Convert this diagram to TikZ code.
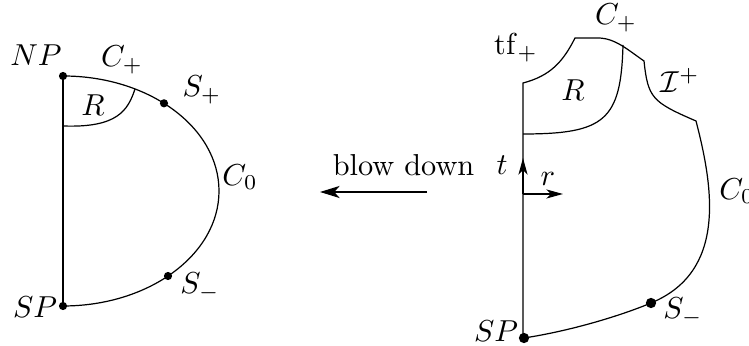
\documentclass[tikz,border=0pt]{standalone}
\usetikzlibrary{arrows.meta}
\begin{document}
\begin{tikzpicture}[x=0.33pt,y=-0.33pt,
  dotL/.style={circle,fill,inner sep=0pt,minimum size=2.7pt},
  dotR/.style={circle,fill,inner sep=0pt,minimum size=3.4pt},
  lab/.style={inner sep=0pt},
  bigarr/.style={-{Stealth[length=6.5pt,width=4pt,inset=1.8pt]}},
  axarr/.style={-{Stealth[length=5.5pt,width=3pt,inset=1.5pt]}}]
\useasboundingbox (0,0) rectangle (749,346);
\clip (0,0) rectangle (749,346);
% ---------- left picture ----------
\coordinate (NP) at (63,76);
\coordinate (SP) at (63,306);
\coordinate (Sp) at (164,103.3);
\coordinate (Sm) at (168,276);
\coordinate (Ra) at (63,126);
\coordinate (Rb) at (135,89);
\draw (NP) -- (SP);
\draw (NP) arc[start angle=-90,end angle=90,x radius=156,y radius=115];
\draw (Ra) .. controls (118,128) and (128,110) .. (Rb);
\node[dotL] (dNP) at (NP) {};
\node[dotL] (dSP) at (SP) {};
\node[dotL] (dSp) at (Sp) {};
\node[dotL] (dSm) at (Sm) {};
\node[lab] (lNP) at (36,55) {$NP$};
\node[lab] (lCp) at (122,60) {$C_+$};
\node[lab] (lSp) at (202,90) {$S_+$};
\node[lab] (lR) at (93,105) {$R$};
\node[lab] (lC0) at (240,177) {$C_0$};
\node[lab] (lSm) at (200,287) {$S_-$};
\node[lab] (lSP) at (35,307) {$SP$};
% ---------- blow down ----------
\node[lab] (bd) at (403.5,165.5) {blow down};
\coordinate (ba) at (427,192);
\coordinate (bb) at (320,192);
\draw[bigarr] (ba) -- (bb);
% ---------- right picture ----------
\coordinate (B0) at (523,338);
\coordinate (A1) at (523,83);
\coordinate (A2) at (575,38);
\coordinate (A3) at (598,38);
\coordinate (A4) at (644,61);
\coordinate (A5) at (696,121);
\coordinate (Sm2) at (651,303);
\coordinate (SP2) at (524,338);
\coordinate (Rt) at (623,45);
\coordinate (Rl) at (523,134);
\draw (B0) -- (A1) .. controls (550,76) and (563,62) .. (A2) -- (A3)
  .. controls (615,38) and (628,50) .. (A4)
  .. controls (648,98) and (652,102) .. (A5)
  .. controls (714,190) and (726,272) .. (Sm2)
  .. controls (620,316) and (570,331) .. (SP2);
\draw (Rt) .. controls (621,120) and (605,134) .. (Rl);
\coordinate (O) at (523,194);
\coordinate (tend) at (523,158);
\coordinate (rend) at (563,194);
\draw[axarr,line width=0.6pt] (O) -- (tend);
\draw[axarr] (O) -- (rend);
\node[dotR] (dSP2) at (SP2) {};
\node[dotR] (dSm2) at (Sm2) {};
\node[lab] (ltf) at (516,48) {$\mathrm{tf}_+$};
\node[lab] (lCp2) at (616,18) {$C_+$};
\node[lab] (lR2) at (573,90) {$R$};
\node[lab] (lI) at (680,80) {$\mathcal{I}^+$};
\node[lab] (lC02) at (737,191) {$C_0$};
\node[lab] (lt) at (502,165) {$t$};
\node[lab] (lr) at (548,179) {$r$};
\node[lab] (lSm2) at (683,312) {$S_-$};
\node[lab] (lSP2) at (496,331) {$SP$};
\end{tikzpicture}
\end{document}
